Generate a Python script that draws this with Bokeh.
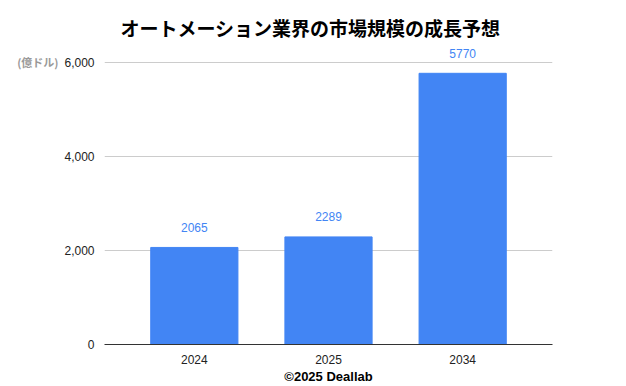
from bokeh.plotting import figure
from bokeh.models import ColumnDataSource, FactorRange, FixedTicker, NumeralTickFormatter, Title, Range1d, LinearAxis
from bokeh.core.properties import value
from bokeh.embed import file_html
from bokeh.resources import INLINE

years = ["2024", "2025", "2034"]
values = [2065, 2289, 5770]
labels = [str(v) for v in values]
y_ticks = [0, 2000, 4000, 6000]
unit_label = "(億ドル)"

src = ColumnDataSource(dict(x=years, top=values, lab=labels))

p = figure(x_range=FactorRange(*years, range_padding=0.113), y_range=Range1d(0, 6468),
           width=626, height=386, output_backend="svg", toolbar_location=None,
           min_border_left=104, min_border_right=74, min_border_top=40, min_border_bottom=42)
p.title.text = "オートメーション業界の市場規模の成長予想"
p.title.align = "left"
p.title.text_font = "Noto Sans CJK JP"
p.title.text_font_style = "bold"
p.title.text_font_size = "19px"
p.title.text_color = "#000000"
p.title.offset = 16
p.title.standoff = 0

p.vbar(x="x", top="top", width=0.65, source=src, color="#4285f4")
p.text(x="x", y="top", text="lab", source=src, text_align="center", text_baseline="middle",
       y_offset=-20, text_color="#4285f4", text_font_size="12px", text_font=value("Liberation Sans"))

p.outline_line_color = None
p.xgrid.grid_line_color = None
p.ygrid.grid_line_color = "#cccccc"
p.ygrid.ticker = FixedTicker(ticks=y_ticks)
p.yaxis.ticker = FixedTicker(ticks=y_ticks)
p.yaxis.formatter = NumeralTickFormatter(format="0,0")
p.yaxis.axis_line_color = None
p.yaxis.major_tick_line_color = None
p.yaxis.minor_tick_line_color = None
p.yaxis.major_label_standoff = 4
p.yaxis.major_label_text_font = "Liberation Sans"
p.yaxis.major_label_text_font_size = "12px"
p.yaxis.major_label_text_color = "#222222"

# unit label as an extra left axis showing one label near the top tick
unit_axis = LinearAxis(ticker=FixedTicker(ticks=[y_ticks[-1]]),
                       major_label_overrides={y_ticks[-1]: unit_label})
unit_axis.axis_line_color = None
unit_axis.major_tick_line_color = None
unit_axis.minor_tick_line_color = None
unit_axis.major_label_standoff = -3
unit_axis.major_label_text_font = "Noto Sans CJK JP"
unit_axis.major_label_text_font_style = "bold"
unit_axis.major_label_text_font_size = "11px"
unit_axis.major_label_text_color = "#999999"
unit_axis.major_label_text_baseline = "bottom"
p.add_layout(unit_axis, "left")

p.xaxis.axis_line_color = "#333333"
p.xaxis.major_tick_line_color = None
p.xaxis.minor_tick_line_color = None
p.xaxis.major_label_standoff = 4
p.xaxis.major_label_text_font = "Liberation Sans"
p.xaxis.major_label_text_font_size = "12px"
p.xaxis.major_label_text_color = "#222222"

foot = Title(text="©2025 Deallab", align="center", text_font="Liberation Sans", text_font_style="bold",
             text_font_size="13px", text_color="#000000", standoff=0)
p.add_layout(foot, "below")

open("out.html", "w").write(file_html(p, INLINE))
